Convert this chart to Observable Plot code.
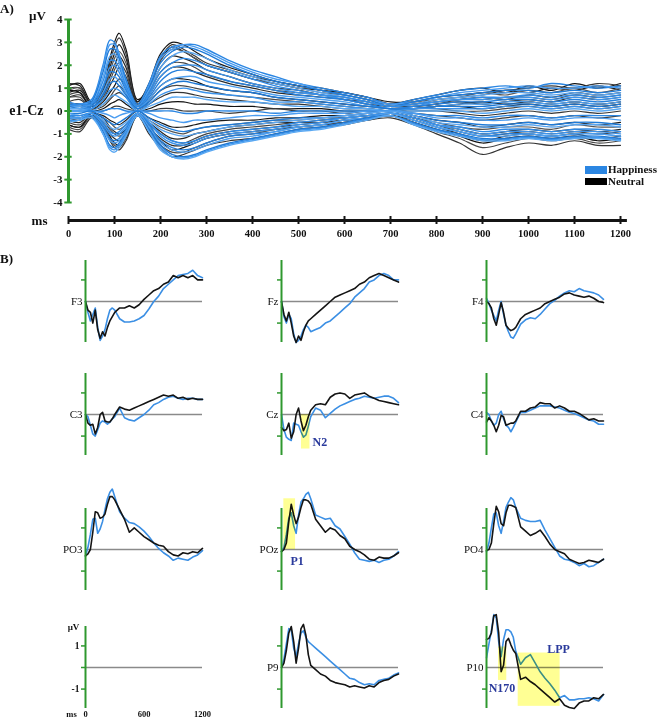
<!DOCTYPE html>
<html><head><meta charset="utf-8">
<script src="https://cdn.jsdelivr.net/npm/d3@7"></script>
<script src="https://cdn.jsdelivr.net/npm/@observablehq/plot@0.6"></script>
<style>
body{margin:0;background:#fff;}
#fig{position:relative;width:657px;height:719px;overflow:hidden;font-family:"Liberation Serif",serif;background:#fff;}
.abs{position:absolute;}
.head{font-weight:bold;font-size:13px;color:#111;}
.leg{font-weight:bold;font-size:11px;color:#111;line-height:11px;}
</style></head><body><div id="fig"></div>
<script>
// ---------------- Panel A data: butterfly plot, e1-Cz (µV) ----------------
const tA = [0,25,50,75,90,100,110,125,150,175,200,225,250,275,300,350,400,450,500,550,600,650,700,750,800,850,900,950,1000,1050,1100,1150,1200];
const yTicksA = [-4,-3,-2,-1,0,1,2,3,4];
const xTicksA = [0,100,200,300,400,500,600,700,800,900,1000,1100,1200];
// Neutral (black) traces
const N1  = [1.1,1.2,0.4,1.0,2.3,3.0,3.4,2.7,0.5,1.0,2.2,2.8,2.6,2.3,2.0,1.7,1.4,1.2,1.0,0.9,0.7,0.5,0.3,0.5,0.7,0.9,1.0,0.8,1.1,0.9,1.2,1.0,1.2];
const N2  = [0.8,0.9,0.3,0.8,1.9,2.5,2.9,2.3,0.4,1.2,2.5,3.0,2.9,2.6,2.3,1.9,1.6,1.3,1.1,0.9,0.8,0.6,0.4,0.4,0.6,0.7,0.8,0.9,0.8,1.0,0.9,1.1,0.9];
const N3  = [1.2,1.1,0.3,0.7,1.5,2.0,2.4,1.9,0.3,0.9,1.9,2.4,2.3,2.1,1.8,1.5,1.2,1.0,0.9,0.7,0.6,0.4,0.2,0.3,0.4,0.5,0.6,0.5,0.7,0.6,0.8,0.7,0.8];
const N4  = [0.6,0.7,0.2,0.5,1.1,1.5,1.9,1.5,0.2,0.7,1.5,1.9,1.9,1.7,1.5,1.2,1.0,0.8,0.7,0.6,0.5,0.3,0.2,0.2,0.3,0.4,0.3,0.4,0.5,0.4,0.6,0.5,0.6];
const N5  = [0.9,0.8,0.1,0.4,0.8,1.1,1.4,1.1,0.1,0.5,1.1,1.4,1.4,1.3,1.1,0.9,0.8,0.6,0.5,0.4,0.3,0.2,0.1,0.1,0.2,0.2,0.1,0.2,0.3,0.2,0.3,0.2,0.3];
const N6  = [0.4,0.5,0.1,0.2,0.5,0.7,0.8,0.6,0.0,0.3,0.6,0.8,0.8,0.7,0.6,0.5,0.4,0.3,0.3,0.2,0.1,0.1,0.0,0.0,0.0,-0.1,-0.2,-0.1,0.0,-0.1,0.0,-0.1,0.0];
const N7  = [0.2,0.2,0.0,0.0,0.1,0.2,0.2,0.1,0.0,0.0,0.1,0.1,0.0,0.0,0.0,-0.1,0.0,0.1,0.0,0.0,-0.1,0.0,0.0,-0.1,-0.2,-0.3,-0.4,-0.3,-0.2,-0.3,-0.2,-0.3,-0.2];
const N8  = [-0.2,-0.3,-0.1,-0.2,-0.4,-0.5,-0.6,-0.4,0.0,-0.3,-0.5,-0.7,-0.7,-0.6,-0.5,-0.4,-0.4,-0.3,-0.3,-0.2,-0.2,-0.1,0.0,-0.2,-0.4,-0.5,-0.7,-0.6,-0.5,-0.6,-0.5,-0.6,-0.5];
const N9  = [-0.4,-0.5,-0.1,-0.3,-0.7,-0.9,-1.0,-0.8,-0.1,-0.5,-0.9,-1.2,-1.2,-1.0,-0.9,-0.7,-0.6,-0.5,-0.5,-0.4,-0.3,-0.2,-0.1,-0.3,-0.6,-0.8,-1.0,-0.9,-0.8,-0.9,-0.8,-0.9,-0.8];
const N10 = [-0.6,-0.7,-0.2,-0.5,-1.0,-1.2,-1.3,-1.0,-0.1,-0.7,-1.2,-1.5,-1.5,-1.3,-1.1,-0.9,-0.8,-0.7,-0.6,-0.5,-0.4,-0.3,-0.2,-0.4,-0.7,-1.0,-1.3,-1.1,-1.0,-1.1,-1.0,-1.2,-1.1];
const N11 = [-0.7,-0.8,-0.2,-0.6,-1.2,-1.5,-1.6,-1.2,-0.2,-0.9,-1.5,-1.8,-1.8,-1.6,-1.4,-1.1,-1.0,-0.8,-0.7,-0.6,-0.5,-0.4,-0.2,-0.5,-0.9,-1.2,-1.6,-1.4,-1.2,-1.3,-1.2,-1.4,-1.3];
const N12 = [-0.8,-0.9,-0.3,-0.7,-1.3,-1.6,-1.7,-1.3,-0.2,-1.0,-1.6,-2.0,-1.9,-1.7,-1.5,-1.3,-1.2,-1.0,-0.8,-0.7,-0.6,-0.4,-0.3,-0.6,-1.0,-1.4,-1.9,-1.6,-1.4,-1.5,-1.3,-1.5,-1.5];
const N13 = [1.0,1.0,0.3,0.9,2.1,2.8,3.2,2.5,0.4,1.1,2.3,2.9,2.7,2.4,2.1,1.8,1.5,1.3,1.1,1.0,0.8,0.6,0.3,0.3,0.5,0.6,0.7,0.9,1.0,1.1,1.0,1.2,1.1];
const N14 = [0.9,1.0,0.3,0.8,1.7,2.3,2.6,2.1,0.3,1.0,2.2,2.7,2.6,2.3,2.0,1.7,1.4,1.2,1.0,0.8,0.7,0.5,0.3,0.4,0.5,0.6,0.8,0.7,0.9,0.8,1.0,0.8,1.0];
const N15 = [0.7,0.8,0.2,0.6,1.3,1.8,2.1,1.7,0.2,0.8,1.7,2.1,2.1,1.9,1.6,1.3,1.1,0.9,0.8,0.7,0.5,0.4,0.2,0.2,0.3,0.5,0.5,0.6,0.6,0.5,0.7,0.6,0.7];
const N16 = [0.6,0.6,0.1,0.3,0.6,0.9,1.1,0.8,0.1,0.4,0.9,1.1,1.1,1.0,0.9,0.7,0.6,0.5,0.4,0.3,0.2,0.1,0.0,0.1,0.1,0.0,0.0,0.1,0.2,0.1,0.2,0.1,0.2];
const N17 = [-0.3,-0.4,-0.1,-0.3,-0.5,-0.7,-0.8,-0.6,-0.1,-0.4,-0.7,-0.9,-1.0,-0.8,-0.7,-0.6,-0.5,-0.4,-0.4,-0.3,-0.3,-0.2,-0.1,-0.3,-0.5,-0.7,-0.8,-0.7,-0.7,-0.8,-0.6,-0.7,-0.7];
const N18 = [-0.5,-0.6,-0.2,-0.4,-0.8,-1.0,-1.1,-0.9,-0.1,-0.6,-1.0,-1.3,-1.4,-1.2,-1.0,-0.8,-0.7,-0.6,-0.5,-0.5,-0.4,-0.3,-0.1,-0.3,-0.6,-0.9,-1.1,-1.0,-0.9,-1.0,-0.9,-1.0,-0.9];
const N19 = [-0.6,-0.7,-0.2,-0.6,-1.1,-1.4,-1.5,-1.1,-0.2,-0.8,-1.3,-1.7,-1.6,-1.4,-1.2,-1.0,-0.9,-0.8,-0.7,-0.6,-0.5,-0.3,-0.2,-0.5,-0.8,-1.1,-1.4,-1.2,-1.1,-1.2,-1.1,-1.3,-1.2];
const N20 = [0.3,0.3,0.0,0.1,0.3,0.4,0.5,0.3,0.0,0.1,0.3,0.4,0.4,0.3,0.3,0.2,0.2,0.1,0.1,0.1,0.0,0.0,0.0,0.1,0.2,0.3,0.4,0.3,0.4,0.3,0.4,0.3,0.4];
// Happiness (blue) traces
const H1  = [0.4,0.3,0.5,2.0,3.1,3.0,2.5,1.4,0.3,1.2,2.4,2.8,2.9,2.9,2.7,2.2,1.8,1.5,1.2,1.0,0.8,0.6,0.3,0.5,0.7,0.9,1.0,1.1,1.0,1.2,1.1,1.0,1.1];
const H2  = [0.3,0.2,0.4,1.7,2.7,2.7,2.3,1.3,0.2,1.0,2.1,2.6,2.8,2.7,2.5,2.0,1.6,1.3,1.1,0.9,0.7,0.5,0.2,0.4,0.6,0.7,0.8,0.9,0.9,0.8,0.9,0.8,0.9];
const H3  = [0.2,0.3,0.3,1.3,2.2,2.2,1.9,1.1,0.2,0.8,1.7,2.1,2.3,2.2,2.0,1.7,1.4,1.1,0.9,0.7,0.6,0.4,0.2,0.3,0.4,0.5,0.6,0.6,0.7,0.6,0.7,0.6,0.7];
const H4  = [0.3,0.2,0.2,1.0,1.7,1.7,1.5,0.9,0.1,0.6,1.3,1.7,1.8,1.7,1.6,1.3,1.1,0.9,0.7,0.6,0.5,0.3,0.1,0.2,0.3,0.4,0.4,0.5,0.5,0.4,0.5,0.4,0.5];
const H5  = [0.2,0.1,0.1,0.7,1.2,1.3,1.1,0.7,0.1,0.4,0.9,1.2,1.3,1.2,1.1,0.9,0.8,0.6,0.5,0.4,0.3,0.2,0.1,0.1,0.2,0.2,0.2,0.3,0.3,0.2,0.3,0.2,0.3];
const H6  = [0.1,0.1,0.0,0.3,0.6,0.7,0.6,0.4,0.0,0.2,0.4,0.6,0.6,0.6,0.5,0.4,0.4,0.3,0.2,0.2,0.1,0.1,0.0,0.0,0.0,0.0,-0.1,0.0,0.1,0.0,0.1,0.0,0.1];
const H7  = [0.0,0.0,0.0,0.0,0.1,0.1,0.1,0.0,0.0,0.0,0.0,0.0,-0.1,-0.1,0.0,0.0,0.0,-0.1,0.0,0.0,0.0,0.0,0.0,-0.1,-0.2,-0.2,-0.3,-0.2,-0.2,-0.3,-0.2,-0.2,-0.2];
const H8  = [-0.1,-0.1,0.0,-0.3,-0.5,-0.6,-0.5,-0.3,0.0,-0.3,-0.6,-0.8,-0.9,-0.8,-0.7,-0.6,-0.5,-0.4,-0.3,-0.3,-0.2,-0.1,0.0,-0.2,-0.4,-0.5,-0.6,-0.6,-0.5,-0.6,-0.5,-0.5,-0.6];
const H9  = [-0.2,-0.2,-0.1,-0.5,-0.9,-1.0,-0.9,-0.6,-0.1,-0.5,-1.0,-1.3,-1.4,-1.3,-1.1,-0.9,-0.8,-0.7,-0.5,-0.4,-0.3,-0.2,-0.1,-0.3,-0.6,-0.7,-0.9,-0.8,-0.8,-0.9,-0.8,-0.8,-0.9];
const H10 = [-0.3,-0.3,-0.2,-0.7,-1.2,-1.3,-1.2,-0.8,-0.1,-0.6,-1.3,-1.6,-1.7,-1.6,-1.4,-1.1,-1.0,-0.9,-0.7,-0.6,-0.4,-0.3,-0.1,-0.4,-0.7,-0.9,-1.1,-1.0,-1.0,-1.1,-1.0,-1.0,-1.1];
const H11 = [-0.4,-0.4,-0.2,-0.9,-1.5,-1.6,-1.4,-1.0,-0.2,-0.8,-1.5,-1.9,-2.0,-1.9,-1.7,-1.4,-1.2,-1.0,-0.8,-0.7,-0.5,-0.3,-0.2,-0.5,-0.8,-1.0,-1.2,-1.2,-1.1,-1.2,-1.1,-1.1,-1.2];
const H12 = [-0.5,-0.4,-0.3,-1.0,-1.7,-1.8,-1.6,-1.1,-0.2,-0.9,-1.7,-2.0,-2.1,-2.0,-1.8,-1.5,-1.3,-1.1,-0.9,-0.8,-0.6,-0.4,-0.2,-0.6,-0.9,-1.1,-1.3,-1.3,-1.2,-1.3,-1.2,-1.2,-1.3];
const H13 = [0.3,0.3,0.4,1.9,2.9,2.9,2.4,1.3,0.2,1.1,2.3,2.7,2.9,2.8,2.6,2.1,1.7,1.4,1.2,0.9,0.7,0.5,0.3,0.4,0.6,0.8,0.9,1.0,1.1,1.0,1.0,1.1,1.0];
const H14 = [0.2,0.2,0.3,1.5,2.4,2.5,2.1,1.2,0.2,0.9,1.9,2.4,2.6,2.5,2.3,1.8,1.5,1.2,1.0,0.8,0.6,0.4,0.2,0.3,0.5,0.6,0.7,0.8,0.8,0.7,0.8,0.7,0.8];
const H15 = [0.2,0.2,0.2,1.1,1.9,2.0,1.7,1.0,0.1,0.7,1.5,1.9,2.0,2.0,1.8,1.5,1.2,1.0,0.8,0.7,0.5,0.3,0.1,0.2,0.4,0.5,0.5,0.6,0.6,0.5,0.6,0.5,0.6];
const H16 = [0.2,0.2,0.1,0.8,1.4,1.5,1.3,0.8,0.1,0.5,1.1,1.4,1.5,1.5,1.3,1.1,0.9,0.7,0.6,0.5,0.4,0.2,0.1,0.1,0.2,0.3,0.3,0.4,0.4,0.3,0.4,0.3,0.4];
const H17 = [0.1,0.1,0.1,0.5,0.9,1.0,0.9,0.6,0.0,0.3,0.7,0.9,1.0,0.9,0.8,0.7,0.6,0.4,0.4,0.3,0.2,0.1,0.0,0.1,0.1,0.1,0.1,0.2,0.2,0.1,0.2,0.1,0.2];
const H18 = [0.0,0.0,0.0,-0.1,-0.2,-0.3,-0.2,-0.1,0.0,-0.1,-0.3,-0.4,-0.5,-0.4,-0.4,-0.3,-0.2,-0.2,-0.1,-0.1,-0.1,0.0,0.0,-0.1,-0.3,-0.3,-0.4,-0.4,-0.3,-0.4,-0.3,-0.3,-0.4];
const H19 = [-0.1,-0.2,-0.1,-0.4,-0.7,-0.8,-0.7,-0.5,-0.1,-0.4,-0.8,-1.0,-1.1,-1.0,-0.9,-0.7,-0.6,-0.5,-0.4,-0.3,-0.2,-0.1,0.0,-0.2,-0.5,-0.6,-0.7,-0.7,-0.6,-0.7,-0.6,-0.6,-0.7];
const H20 = [-0.2,-0.3,-0.1,-0.6,-1.0,-1.1,-1.0,-0.7,-0.1,-0.5,-1.1,-1.4,-1.5,-1.4,-1.2,-1.0,-0.9,-0.8,-0.6,-0.5,-0.3,-0.2,-0.1,-0.3,-0.6,-0.8,-1.0,-0.9,-0.9,-1.0,-0.9,-0.9,-1.0];
const H21 = [-0.3,-0.3,-0.2,-0.8,-1.3,-1.4,-1.3,-0.9,-0.1,-0.7,-1.4,-1.7,-1.8,-1.7,-1.5,-1.2,-1.1,-0.9,-0.7,-0.6,-0.4,-0.3,-0.1,-0.4,-0.7,-0.9,-1.1,-1.1,-1.0,-1.1,-1.0,-1.0,-1.1];
const H22 = [-0.4,-0.4,-0.2,-1.0,-1.6,-1.7,-1.5,-1.0,-0.2,-0.9,-1.6,-2.0,-2.05,-1.95,-1.75,-1.45,-1.25,-1.05,-0.85,-0.75,-0.55,-0.35,-0.2,-0.55,-0.85,-1.05,-1.25,-1.25,-1.15,-1.25,-1.15,-1.15,-1.25];

// ---------------- Panel B data: grand averages per electrode (µV) ----------------
const tB = [0,25,50,75,100,125,150,175,200,225,250,275,300,350,400,450,500,550,600,650,700,750,800,850,900,950,1000,1050,1100,1150,1200];
const F3N  = [0,-0.4,-0.5,-1.0,-0.4,-1.3,-1.7,-1.4,-1.6,-1.2,-0.9,-0.7,-0.5,-0.3,-0.3,-0.2,-0.3,-0.15,0.1,0.3,0.5,0.6,0.8,0.9,1.2,1.1,1.2,1.1,1.2,1.0,1.0];
const F3H  = [0,-0.5,-0.9,-0.6,-0.3,-1.2,-1.8,-1.6,-1.3,-0.8,-0.4,-0.3,-0.4,-0.8,-0.95,-0.95,-0.9,-0.8,-0.65,-0.35,0.0,0.25,0.6,0.8,1.0,1.2,1.25,1.3,1.45,1.2,1.1];
const FzN  = [0,-0.6,-0.9,-0.5,-1.0,-1.6,-1.9,-1.6,-1.8,-1.4,-1.1,-0.9,-0.8,-0.6,-0.4,-0.2,0.0,0.2,0.3,0.4,0.5,0.6,0.8,0.9,1.1,1.2,1.3,1.2,1.1,1.0,0.9];
const FzH  = [0,-0.7,-1.0,-0.6,-0.8,-1.5,-1.9,-1.8,-1.6,-1.3,-1.1,-1.2,-1.4,-1.3,-1.2,-1.0,-0.9,-0.7,-0.5,-0.3,-0.1,0.2,0.4,0.6,0.9,1.0,1.2,1.3,1.2,1.0,1.0];
const F4N  = [0,-0.1,-0.3,-0.8,-1.1,-0.6,-0.05,-0.5,-1.1,-1.25,-1.35,-1.3,-1.2,-0.8,-0.6,-0.5,-0.4,-0.3,-0.1,0.0,0.1,0.2,0.35,0.4,0.3,0.25,0.2,0.25,0.15,0.0,-0.05];
const F4H  = [0.15,-0.1,-0.4,-0.65,-0.9,-0.4,0.0,-0.6,-1.1,-1.4,-1.65,-1.7,-1.5,-1.05,-0.85,-0.75,-0.8,-0.6,-0.35,-0.1,0.05,0.25,0.4,0.5,0.45,0.6,0.5,0.45,0.4,0.3,0.1];
const C3N  = [0,-0.4,-0.5,-0.45,-0.9,-0.6,0.0,0.1,-0.3,-0.35,-0.35,-0.2,0.0,0.35,0.25,0.2,0.3,0.4,0.5,0.6,0.7,0.8,0.9,0.85,0.9,0.75,0.8,0.7,0.75,0.7,0.7];
const C3H  = [0,-0.1,-0.5,-0.9,-1.0,-0.7,-0.4,-0.3,-0.35,-0.45,-0.35,-0.2,-0.1,0.3,-0.15,-0.25,-0.3,-0.15,0.0,0.2,0.45,0.55,0.7,0.8,0.85,0.75,0.7,0.75,0.75,0.7,0.7];
const CzN  = [-0.6,-0.75,-0.7,-0.4,-1.1,-0.8,0.0,0.3,-0.3,-0.75,-0.5,-0.1,0.2,0.45,0.5,0.45,0.8,0.95,1.0,0.95,0.75,0.9,0.95,1.0,0.85,0.75,0.65,0.6,0.55,0.5,0.45];
const CzH  = [0,-0.7,-1.05,-1.15,-1.2,-0.4,-0.45,-0.5,-0.8,-1.05,-0.95,-0.55,-0.1,0.3,0.2,-0.15,0.05,0.25,0.4,0.5,0.6,0.7,0.75,0.85,0.8,0.75,0.8,0.85,0.85,0.75,0.55];
const C4N  = [-0.35,-0.15,-0.3,-0.5,-0.8,-0.5,-0.05,-0.1,-0.5,-0.45,-0.4,-0.4,-0.3,0.15,0.15,0.3,0.35,0.55,0.5,0.5,0.3,0.4,0.3,0.15,0.15,0.05,-0.1,-0.25,-0.2,-0.3,-0.3];
const C4H  = [0.1,0.0,-0.3,-0.5,-0.4,0.0,0.15,-0.2,-0.5,-0.6,-0.8,-0.6,-0.35,0.1,0.1,0.2,0.3,0.4,0.4,0.4,0.35,0.3,0.2,0.1,0.05,-0.05,-0.15,-0.25,-0.3,-0.45,-0.45];
const PO3N = [-0.3,-0.2,0.0,0.8,1.75,1.7,1.45,1.5,1.65,2.1,2.45,2.45,2.3,1.85,1.4,0.8,1.0,0.8,0.6,0.45,0.3,0.2,0.15,-0.1,-0.25,-0.3,-0.15,-0.2,-0.1,-0.15,0.05];
const PO3H = [-0.3,0.1,0.7,1.4,1.45,0.75,0.95,1.3,1.85,2.35,2.65,2.8,2.45,1.75,1.45,1.25,1.2,1.05,0.85,0.6,0.3,0.05,-0.15,-0.3,-0.5,-0.4,-0.45,-0.5,-0.35,-0.25,-0.05];
const POzN = [-0.1,0.0,0.3,1.3,2.1,1.6,1.2,1.5,1.95,2.3,2.3,2.25,2.1,1.4,1.1,0.8,1.0,0.9,0.65,0.5,0.15,0.0,-0.1,-0.25,-0.45,-0.5,-0.35,-0.4,-0.4,-0.3,-0.15];
const POzH = [-0.1,0.1,0.7,1.45,1.7,1.1,0.75,1.6,2.2,2.35,2.55,2.65,2.35,1.6,1.5,1.4,1.45,1.1,0.95,0.6,0.25,-0.15,-0.45,-0.5,-0.55,-0.5,-0.6,-0.5,-0.45,-0.3,-0.1];
const PO4N = [-0.05,0.0,0.3,1.2,2.0,1.75,1.2,1.1,1.7,2.05,2.05,2.0,1.95,1.05,0.85,0.65,0.75,0.9,0.6,0.25,0.0,-0.1,-0.2,-0.45,-0.55,-0.65,-0.6,-0.5,-0.55,-0.6,-0.45];
const PO4H = [-0.1,0.3,1.0,1.65,1.7,1.1,0.75,1.3,1.95,2.2,2.4,2.3,1.95,1.45,1.35,1.3,1.3,1.35,0.9,0.5,0.1,-0.3,-0.45,-0.5,-0.6,-0.75,-0.65,-0.8,-0.75,-0.6,-0.45];
const P9N  = [0.0,0.2,0.8,1.6,1.9,1.2,0.2,0.9,1.8,2.0,1.5,0.6,0.1,-0.1,-0.3,-0.4,-0.6,-0.7,-0.75,-0.8,-0.9,-0.85,-0.9,-0.95,-0.85,-0.9,-0.7,-0.6,-0.55,-0.4,-0.3];
const P9H  = [0.0,0.4,1.1,1.8,1.75,0.9,0.5,1.1,1.6,1.7,1.4,1.2,1.1,0.9,0.7,0.5,0.3,0.1,-0.1,-0.3,-0.5,-0.55,-0.7,-0.8,-0.75,-0.8,-0.6,-0.55,-0.5,-0.35,-0.25];
const P10N = [1.3,1.35,1.6,2.4,2.45,1.6,-0.2,0.1,1.2,1.35,1.05,0.8,0.65,-0.55,-0.45,-0.65,-0.8,-1.0,-1.2,-1.4,-1.6,-1.45,-1.75,-1.85,-1.9,-1.65,-1.55,-1.55,-1.4,-1.45,-1.25];
const P10H = [0.45,1.1,1.7,2.45,2.3,1.2,0.5,1.3,1.75,1.75,1.65,1.4,0.75,0.15,0.45,0.6,0.2,-0.2,-0.5,-0.75,-1.05,-1.4,-1.3,-1.5,-1.5,-1.45,-1.45,-1.4,-1.45,-1.55,-1.25];
const yTicksB = [-1, 1];
const scaleTicksB = [-1, 0, 1];
const scaleXLabels = [0, 600, 1200];
// highlighted components (time window in ms, amplitude window in µV)
const compNames = ["N2", "P1", "N170", "LPP"];
const compElectrode = ["Cz", "POz", "P10", "P10"];
const compT1 = [205, 24, 123, 325];
const compT2 = [292, 144, 208, 755];
const compV1 = [0, 0, -0.6, -1.8];
const compV2 = [-1.6, 2.35, 0.95, 0.67];
const compLabelT = [318, 92, 22, 739];
const compLabelV = [-1.3, -0.55, -0.95, 0.85];

// ---------------- styling / layout ----------------
const GREEN = "#2f982f", BLUE_A = "#2b86e2", BLUE_B = "#3b8fe4", BLACK = "#141414", GRAY = "#8a8a8a", NAVY = "#2a3a9c";
const FONT = "Liberation Serif";
const fig = document.getElementById("fig");
function place(node, left, top, w) {
  const d = document.createElement("div");
  d.className = "abs"; d.style.left = left + "px"; d.style.top = top + "px"; d.style.width = w + "px";
  d.appendChild(node); fig.appendChild(d);
}
function html(txt, left, top, cls) {
  const d = document.createElement("div");
  d.className = "abs " + cls; d.style.left = left + "px"; d.style.top = top + "px"; d.textContent = txt;
  fig.appendChild(d);
}
const svgStyle = {fontFamily: FONT, background: "transparent", overflow: "visible", maxWidth: "none"};

// ---------------- Panel A ----------------
const neutralA = [N1,N13,N2,N14,N3,N15,N4,N5,N16,N6,N20,N7,N8,N17,N9,N18,N10,N19,N11,N12];
const happyA = [H1,H13,H2,H14,H3,H15,H4,H16,H5,H17,H6,H7,H18,H8,H19,H9,H20,H10,H21,H11,H22,H12];
const rowsA = [];
neutralA.forEach((arr, i) => arr.forEach((v, j) => { if (tA[j] !== undefined) rowsA.push({cond: "Neutral", k: i, t: tA[j], v}); }));
happyA.forEach((arr, i) => arr.forEach((v, j) => { if (tA[j] !== undefined) rowsA.push({cond: "Happiness", k: i, t: tA[j], v}); }));
const grayShade = ["#111","#3a3a3a","#1a1a1a","#555","#222","#444","#2a2a2a","#111","#4a4a4a","#333"];
const blueShade = ["#2b86e2","#4a9cf0","#1f7bd8","#5aa5ef","#2f8ae6","#3d93ea","#2680dc","#4f9fee","#1e78d4","#3a92ea","#5aa8f2"];

const plotA = Plot.plot({
  width: 657, height: 212, marginLeft: 68, marginRight: 37, marginTop: 19, marginBottom: 10,
  x: {domain: [0, 1200], axis: null},
  y: {domain: [-4, 4], axis: null},
  style: svgStyle,
  marks: [
    Plot.line(rowsA.filter(d => d.cond === "Neutral"), {x: "t", y: "v", z: "k", stroke: d => grayShade[d.k % grayShade.length], strokeWidth: 1.2, curve: "catmull-rom"}),
    Plot.line(rowsA.filter(d => d.cond === "Happiness"), {x: "t", y: "v", z: "k", stroke: d => blueShade[d.k % blueShade.length], strokeWidth: 1.4, curve: "catmull-rom"}),
    Plot.ruleX([0], {y1: -4, y2: 4, stroke: GREEN, strokeWidth: 3}),
    Plot.ruleY(yTicksA, {y: d => d, x1: -8, x2: 8, stroke: GREEN, strokeWidth: 2}),
    Plot.text(yTicksA, {x: 0, y: d => d, text: d => String(d), dx: -6, textAnchor: "end", fontWeight: "bold", fontSize: 11, fill: "#111"}),
    Plot.text(["µV"], {x: 0, y: 4, dx: -31, dy: -4, fontWeight: "bold", fontSize: 13, fill: "#111"}),
    Plot.text(["e1-Cz"], {x: 0, y: 0, dx: -25, textAnchor: "end", fontWeight: "bold", fontSize: 14, fill: "#111"})
  ]
});
place(plotA, 0, 0, 657);

// x axis strip of panel A
const axisA = Plot.plot({
  width: 657, height: 40, marginLeft: 68, marginRight: 37, marginTop: 10, marginBottom: 22,
  x: {domain: [0, 1200], axis: null},
  y: {domain: [0, 1], axis: null},
  style: svgStyle,
  marks: [
    Plot.ruleY([0.5], {x1: 0, x2: 1215, stroke: BLACK, strokeWidth: 3}),
    Plot.ruleX(xTicksA, {x: d => d, y1: 0, y2: 1, stroke: BLACK, strokeWidth: 2}),
    Plot.text(xTicksA, {x: d => d, y: 0, dy: 9, text: d => String(d), fontWeight: "bold", fontSize: 10.5, fill: "#111"}),
    Plot.text(["ms"], {x: 0, y: 0.5, dx: -21, textAnchor: "end", fontWeight: "bold", fontSize: 13, fill: "#111"})
  ]
});
place(axisA, 0, 206, 657);

// legend
const lb = document.createElement("div"); lb.className = "abs"; lb.style.cssText = "left:585px;top:166px;width:22px;height:8px;background:" + BLUE_A; fig.appendChild(lb);
const lk = document.createElement("div"); lk.className = "abs"; lk.style.cssText = "left:585px;top:178px;width:22px;height:7px;background:#000"; fig.appendChild(lk);
html("Happiness", 608, 164, "leg");
html("Neutral", 608, 176, "leg");
html("A)", 0, 1, "head");
html("B)", 0, 251, "head");

// ---------------- Panel B ----------------
const colX = [85, 281, 486];
const rowZero = [301, 414, 549, 667];
const electrodes = [
  {name: "F3", N: F3N, H: F3H, c: 0, r: 0}, {name: "Fz", N: FzN, H: FzH, c: 1, r: 0}, {name: "F4", N: F4N, H: F4H, c: 2, r: 0},
  {name: "C3", N: C3N, H: C3H, c: 0, r: 1}, {name: "Cz", N: CzN, H: CzH, c: 1, r: 1}, {name: "C4", N: C4N, H: C4H, c: 2, r: 1},
  {name: "PO3", N: PO3N, H: PO3H, c: 0, r: 2}, {name: "POz", N: POzN, H: POzH, c: 1, r: 2}, {name: "PO4", N: PO4N, H: PO4H, c: 2, r: 2},
  {name: "P9", N: P9N, H: P9H, c: 1, r: 3}, {name: "P10", N: P10N, H: P10H, c: 2, r: 3}
];
const mL = 40, mR = 8, mT = 30, mB = 30, fw = 117, fh = 82;
function basePlot(marks) {
  return Plot.plot({
    width: mL + fw + mR, height: mT + fh + mB, marginLeft: mL, marginRight: mR, marginTop: mT, marginBottom: mB,
    x: {domain: [0, 1200], axis: null},
    y: {domain: [-1.9, 1.9], axis: null},
    style: svgStyle,
    marks
  });
}
electrodes.forEach(e => {
  const toRows = arr => arr.map((v, j) => ({t: tB[j], v})).filter(d => d.t !== undefined);
  const comps = compNames.map((n, i) => ({n, el: compElectrode[i], t1: compT1[i], t2: compT2[i], v1: compV1[i], v2: compV2[i], lt: compLabelT[i], lv: compLabelV[i]})).filter(d => d.el === e.name);
  const p = basePlot([
    Plot.ruleY([0], {x1: 0, x2: 1200, stroke: GRAY, strokeWidth: 1.5}),
    Plot.line(toRows(e.H), {x: "t", y: "v", stroke: BLUE_B, strokeWidth: 1.6}),
    Plot.line(toRows(e.N), {x: "t", y: "v", stroke: BLACK, strokeWidth: 1.6}),
    Plot.rect(comps, {x1: "t1", x2: "t2", y1: "v1", y2: "v2", fill: "#ffff4d", fillOpacity: 0.6, mixBlendMode: "multiply"}),
    Plot.text(comps.filter(d => d.n !== "LPP"), {x: "lt", y: "lv", text: "n", textAnchor: "start", fontWeight: "bold", fontSize: 12, fill: NAVY}),
    Plot.text(comps.filter(d => d.n === "LPP"), {x: "lt", y: "lv", text: "n", textAnchor: "middle", fontWeight: "bold", fontSize: 12, fill: NAVY}),
    Plot.ruleX([0], {y1: -1.9, y2: 1.9, stroke: GREEN, strokeWidth: 2}),
    Plot.ruleY(yTicksB, {y: d => d, x1: -41, x2: 10, stroke: GREEN, strokeWidth: 1.5}),
    Plot.text([e.name], {x: 0, y: 0, dx: -3, textAnchor: "end", fontSize: 11, fill: "#111"})
  ]);
  place(p, colX[e.c] - mL, rowZero[e.r] - mT - fh / 2, mL + fw + mR);
});

// scale panel (bottom-left)
const scaleP = basePlot([
  Plot.ruleY([0], {x1: 0, x2: 1200, stroke: GRAY, strokeWidth: 1.5}),
  Plot.ruleX([0], {y1: -1.9, y2: 1.9, stroke: GREEN, strokeWidth: 2}),
  Plot.ruleY(scaleTicksB, {y: d => d, x1: -41, x2: 10, stroke: GREEN, strokeWidth: 1.5}),
  Plot.text([1, -1], {x: 0, y: d => d, text: d => String(d), dx: -6, textAnchor: "end", fontWeight: "bold", fontSize: 9.5, fill: "#111"}),
  Plot.text(["µV"], {x: 0, y: 1.9, dx: -12, dy: 1, fontWeight: "bold", fontSize: 9, fill: "#111"}),
  Plot.text(scaleXLabels, {x: d => d, y: -1.9, dy: 6, text: d => String(d), fontWeight: "bold", fontSize: 8.5, fill: "#111"}),
  Plot.text(["ms"], {x: 0, y: -1.9, dx: -14, dy: 6, fontWeight: "bold", fontSize: 8.5, fill: "#111"})
]);
place(scaleP, colX[0] - mL, rowZero[3] - mT - fh / 2, mL + fw + mR);
</script></body></html>
